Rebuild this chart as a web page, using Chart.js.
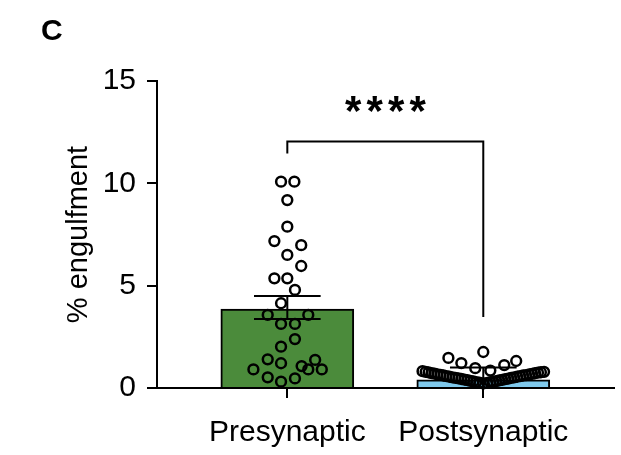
<!DOCTYPE html>
<html>
<head>
<meta charset="utf-8">
<script src="https://cdn.jsdelivr.net/npm/chart.js@4.4.0/dist/chart.umd.min.js"></script>
<style>
html,body{margin:0;padding:0;background:#fff;}
#wrap{width:621px;height:455px;}
</style>
</head>
<body>
<div id="wrap"><canvas id="c" width="621" height="455"></canvas></div>
<script>
// ---- data ----
const categories = ['Presynaptic', 'Postsynaptic'];
const barMeans = [3.86, 0.40];
const errLow = [3.37, 0.00];
const errHigh = [4.50, 1.00];
const yTicks = [0, 5, 10, 15];
const panelLabel = 'C';
const yTitle = '% engulfment';
const sigLabel = '****';
const sigLabelY = 13.9;
const bracketY = [11.46, 12.05, 3.47]; // left foot, top, right foot

const preValues = [10.08, 10.08, 9.18, 7.88, 7.18, 6.98, 6.50, 5.96, 5.36, 5.36,
  4.79, 4.14, 3.57, 3.57, 3.13, 3.13, 2.39, 2.02, 1.40, 1.21,
  1.07, 1.37, 0.91, 0.91, 0.91, 0.52, 0.47, 0.31];
const preJitter = [-0.032, 0.036, 0, 0, -0.066, 0.071, 0, 0.071, -0.066, 0,
  0.039, -0.032, -0.100, 0.107, -0.032, 0.039, 0.039, -0.032, -0.100, -0.032,
  0.073, 0.142, -0.173, 0.107, 0.176, -0.100, 0.039, -0.032];

const postValues = [1.47, 1.22, 0.97, 1.76, 0.85, 1.12, 1.32,
  0.82, 0.79, 0.76, 0.73, 0.70, 0.67, 0.64, 0.61, 0.58, 0.55,
  0.52, 0.49, 0.47, 0.44, 0.41, 0.38, 0.35, 0.32, 0.29, 0.26,
  0.22,
  0.25, 0.28, 0.31, 0.34, 0.37, 0.40, 0.43, 0.46, 0.49, 0.52,
  0.55, 0.58, 0.61, 0.63, 0.66, 0.69, 0.72, 0.75, 0.77, 0.79];
const postJitter = [-0.178, -0.112, -0.041, 0, 0.036, 0.107, 0.168,
  -0.310, -0.294, -0.279, -0.264, -0.249, -0.234, -0.218, -0.203, -0.188, -0.173,
  -0.157, -0.142, -0.127, -0.112, -0.096, -0.081, -0.066, -0.051, -0.036, -0.020,
  0,
  0.020, 0.036, 0.051, 0.066, 0.081, 0.096, 0.112, 0.127, 0.142, 0.157,
  0.173, 0.188, 0.203, 0.218, 0.234, 0.249, 0.264, 0.279, 0.294, 0.310];

// ---- styles ----
const barColors = ['#4b8b3b', '#7fc9ec'];
const FONT = "'Liberation Sans', Arial, Helvetica, sans-serif";
const CAP = 0.17;

const points = (vals, jit, g) => vals.map((v, i) => ({x: g + jit[i], y: v}));
const errData = (g) => [
  {x: g - CAP, y: errHigh[g]}, {x: g + CAP, y: errHigh[g]}, {x: g, y: null},
  {x: g, y: errHigh[g]}, {x: g, y: errLow[g]}, {x: g, y: null},
  {x: g - CAP, y: errLow[g]}, {x: g + CAP, y: errLow[g]}
];

const pointStyle = {
  type: 'scatter', pointRadius: 4.9, pointBorderWidth: 2.5, pointBackgroundColor: 'rgba(0,0,0,0)',
  pointBorderColor: '#000', showLine: false, clip: false, order: 2
};
const lineStyle = {
  type: 'line', showLine: true, pointRadius: 0, borderColor: '#000', borderWidth: 2,
  spanGaps: false, fill: false, order: 1, clip: {left: 10, right: 10, top: 10, bottom: 0}
};

const overlay = {
  id: 'overlay',
  afterDraw(chart) {
    const ctx = chart.ctx;
    const xs = chart.scales.x, ys = chart.scales.y;
    ctx.save();
    ctx.fillStyle = '#000';
    // significance stars
    ctx.font = 'bold 42px ' + FONT;
    const m = ctx.measureText('*');
    const cy = ys.getPixelForValue(sigLabelY);
    const base = cy - (m.actualBoundingBoxDescent - m.actualBoundingBoxAscent) / 2;
    const cx = (xs.getPixelForValue(0) + xs.getPixelForValue(1)) / 2;
    const pitch = 21.5;
    ctx.textAlign = 'center';
    ctx.textBaseline = 'alphabetic';
    const n = sigLabel.length;
    for (let i = 0; i < n; i++) {
      ctx.fillText(sigLabel[i], cx + (i - (n - 1) / 2) * pitch, base);
    }
    // panel label
    ctx.font = 'bold 30px ' + FONT;
    ctx.textAlign = 'left';
    ctx.fillText(panelLabel, 41, 40);
    ctx.restore();
  }
};

new Chart(document.getElementById('c'), {
  type: 'bar',
  data: {
    datasets: [
      {
        type: 'bar',
        data: barMeans.map((v, i) => ({x: i, y: v})),
        backgroundColor: barColors, borderColor: '#000', borderWidth: 2,
        barThickness: 133, order: 3
      },
      Object.assign({data: points(preValues, preJitter, 0)}, pointStyle),
      Object.assign({data: points(postValues, postJitter, 1)}, pointStyle),
      Object.assign({data: errData(0)}, lineStyle),
      Object.assign({data: errData(1)}, lineStyle),
      Object.assign({}, lineStyle, {
        data: [{x: 0, y: bracketY[0]}, {x: 0, y: bracketY[1]}, {x: 1, y: bracketY[1]}, {x: 1, y: bracketY[2]}],
        order: 0, clip: false
      })
    ]
  },
  options: {
    responsive: false,
    devicePixelRatio: 1,
    animation: false,
    layout: {padding: {top: 81, right: 5, bottom: 0, left: 0}},
    plugins: {legend: {display: false}, tooltip: {enabled: false}},
    scales: {
      x: {
        type: 'linear', min: -0.665, max: 1.665, offset: false,
        afterBuildTicks(s) { s.ticks = categories.map((c, i) => ({value: i})); },
        afterFit(s) { s.height = 67; },
        ticks: {
          color: '#000', font: {family: FONT, size: 30}, padding: 17,
          callback: (v) => categories[v]
        },
        grid: {display: true, drawOnChartArea: false, drawTicks: true, tickLength: 10, color: '#000', lineWidth: 2, offset: false},
        border: {display: true, color: '#000', width: 2}
      },
      y: {
        type: 'linear', min: 0, max: 15,
        afterBuildTicks(s) { s.ticks = yTicks.map(v => ({value: v})); },
        afterFit(s) { s.width = 157; },
        ticks: {color: '#000', font: {family: FONT, size: 30}, padding: 11},
        grid: {display: true, drawOnChartArea: false, drawTicks: true, tickLength: 10, color: '#000', lineWidth: 2},
        border: {display: true, color: '#000', width: 2},
        title: {display: true, text: yTitle, color: '#000', font: {family: FONT, size: 29}, padding: {top: 62, bottom: 0}}
      }
    }
  },
  plugins: [overlay]
});
</script>
</body>
</html>
